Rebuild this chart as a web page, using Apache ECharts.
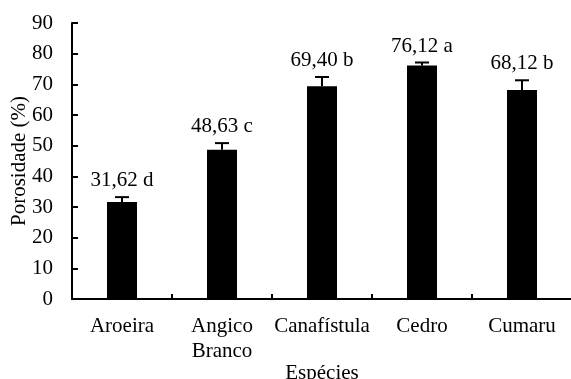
<!DOCTYPE html>
<html>
<head>
<meta charset="utf-8">
<script src="https://cdn.jsdelivr.net/npm/echarts@6/dist/echarts.min.js"></script>
<style>
  html, body { margin: 0; padding: 0; background: #fff; }
  #chart { width: 571px; height: 379px; }
</style>
</head>
<body>
<div id="chart"></div>
<script>
// Porosity by species: mean, standard error and Tukey group letter
const species = ['Aroeira', 'Angico\nBranco', 'Canafístula', 'Cedro', 'Cumaru'];
const porosity = [31.62, 48.63, 69.40, 76.12, 68.12];
const stdError = [1.6, 2.2, 3.0, 1.0, 3.2];
const groupLetters = ['d', 'c', 'b', 'a', 'b'];
const yTicks = [0, 10, 20, 30, 40, 50, 60, 70, 80, 90];

const FONT = 'Liberation Serif';
const FS = 21;

const chart = echarts.init(document.getElementById('chart'), null, { renderer: 'canvas' });

const errorData = porosity.map((v, i) => [i, v, stdError[i]]);

chart.setOption({
  animation: false,
  grid: { left: 72, top: 23, width: 500, height: 276, containLabel: false, outerBoundsMode: 'none' },
  xAxis: {
    type: 'category',
    data: species,
    boundaryGap: true,
    name: 'Espécies',
    nameLocation: 'middle',
    nameGap: 64,
    nameMoveOverlap: false,
    nameTextStyle: { fontFamily: FONT, fontSize: FS, color: '#000' },
    axisLine: { lineStyle: { color: '#000', width: 2 } },
    axisTick: { show: true, inside: true, length: 5, lineStyle: { color: '#000', width: 2 } },
    axisLabel: { fontFamily: FONT, fontSize: FS, color: '#000', margin: 15, lineHeight: 25, interval: 0 },
    splitLine: { show: false }
  },
  yAxis: {
    type: 'value',
    min: yTicks[0],
    max: yTicks[yTicks.length - 1],
    interval: yTicks[1] - yTicks[0],
    name: 'Porosidade (%)',
    nameLocation: 'middle',
    nameGap: 42,
    nameMoveOverlap: false,
    nameTextStyle: { fontFamily: FONT, fontSize: FS, color: '#000' },
    axisLine: { show: true, lineStyle: { color: '#000', width: 2 } },
    axisTick: { show: true, inside: true, length: 6, lineStyle: { color: '#000', width: 2 } },
    axisLabel: { fontFamily: FONT, fontSize: FS, color: '#000', margin: 19 },
    splitLine: { show: false }
  },
  series: [
    {
      type: 'bar',
      data: porosity,
      barWidth: 30,
      itemStyle: { color: '#000' }
    },
    {
      type: 'custom',
      data: errorData,
      z: 3,
      renderItem: function (params, api) {
        const i = api.value(0);
        const mean = api.value(1);
        const err = api.value(2);
        const base = api.coord([i, mean]);
        const top = api.coord([i, mean + err]);
        const cap = 7;
        const style = { stroke: '#000', lineWidth: 2 };
        const label = porosity[params.dataIndex].toFixed(2).replace('.', ',') + ' ' + groupLetters[params.dataIndex];
        return {
          type: 'group',
          children: [
            { type: 'line', shape: { x1: base[0], y1: base[1], x2: top[0], y2: top[1] }, style: style },
            { type: 'line', shape: { x1: top[0] - cap, y1: top[1], x2: top[0] + cap, y2: top[1] }, style: style },
            {
              type: 'text',
              x: top[0],
              y: top[1] - 6,
              style: {
                text: label,
                fontFamily: FONT,
                fontSize: FS,
                fill: '#000',
                align: 'center',
                verticalAlign: 'bottom'
              }
            }
          ]
        };
      }
    }
  ]
});
</script>
</body>
</html>
